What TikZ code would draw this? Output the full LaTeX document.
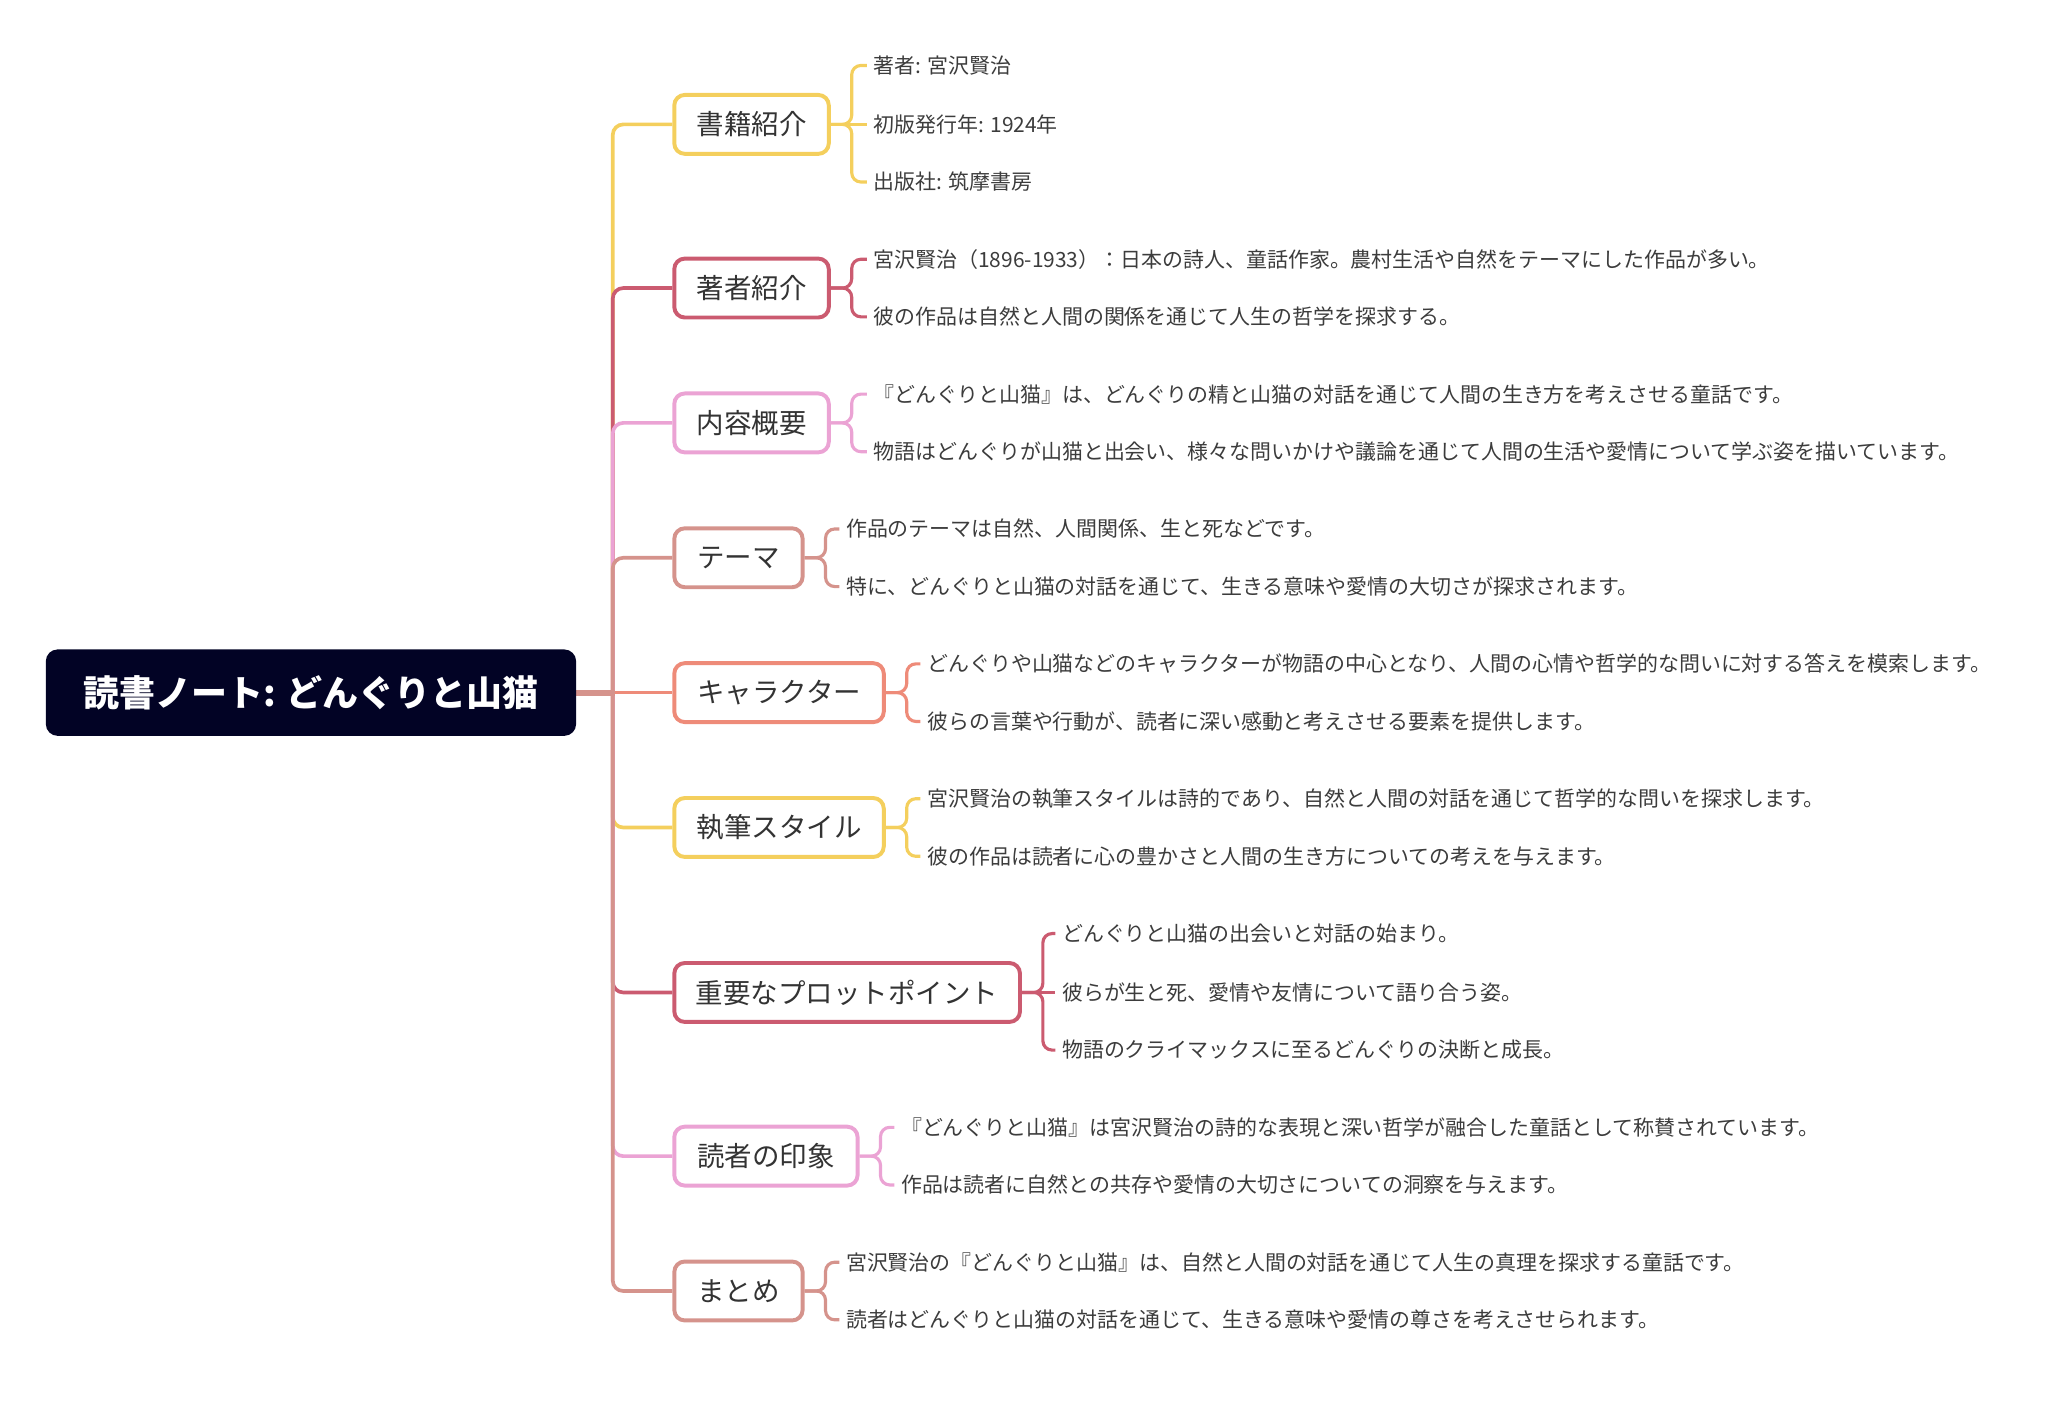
\documentclass[tikz,border=0pt]{standalone}
\usepackage{fontspec}
\setmainfont{Noto Sans CJK JP}
\usetikzlibrary{calc}
\pgfdeclarelayer{links}
\pgfsetlayers{links,main}
\definecolor{cyel}{HTML}{F4CF5D}
\definecolor{ccrim}{HTML}{CB5B70}
\definecolor{cpink}{HTML}{EBA3D4}
\definecolor{crose}{HTML}{D5938C}
\definecolor{csalm}{HTML}{EE8B79}
\definecolor{cnavy}{HTML}{020325}
\definecolor{txtdark}{HTML}{333333}
\definecolor{txtgray}{HTML}{3C3C3C}
\begin{document}
\begin{tikzpicture}[x=1pt,y=-1pt,
  rootbox/.style={fill=cnavy, rounded corners=9pt, text=white,
    font=\bfseries\fontsize{27.5}{30}\selectfont,
    minimum width=405pt, minimum height=66pt, inner sep=0pt},
  branchbox/.style={draw=#1, fill=white, line width=3pt, rounded corners=8pt,
    minimum height=45pt, inner sep=0pt, anchor=west, text=txtdark,
    font=\fontsize{21}{24}\selectfont},
  leaf/.style={anchor=west, inner xsep=5pt, inner ysep=0pt, text=txtgray,
    font=\fontsize{16}{19}\selectfont},
  trunk/.style={draw=#1, line width=2.8pt, rounded corners=8pt},
  twig/.style={draw=#1, line width=2.4pt, rounded corners=7pt},
  rootlink/.style={draw=crose, line width=4.5pt},
]
\useasboundingbox (0,0) rectangle (1568,1070);

% root
\node[rootbox] (root) at (237.5,529) {読書ノート: どんぐりと山猫};
\coordinate (hub) at (468,529);

% branches
\node[branchbox=cyel,  minimum width=118pt] (b1) at (513.5,95)  {書籍紹介};
\node[branchbox=ccrim, minimum width=118pt] (b2) at (513.5,220) {著者紹介};
\node[branchbox=cpink, minimum width=118pt] (b3) at (513.5,323) {内容概要};
\node[branchbox=crose, minimum width=98pt]  (b4) at (513.5,426) {テーマ};
\node[branchbox=csalm, minimum width=160pt] (b5) at (513.5,529) {キャラクター};
\node[branchbox=cyel,  minimum width=160pt] (b6) at (513.5,632) {執筆スタイル};
\node[branchbox=ccrim, minimum width=264pt] (b7) at (513.5,758) {重要なプロットポイント};
\node[branchbox=cpink, minimum width=140pt] (b8) at (513.5,883) {読者の印象};
\node[branchbox=crose, minimum width=98pt]  (b9) at (513.5,986) {まとめ};

% leaves
\node[leaf] (l11) at (662,50)  {著者: 宮沢賢治};
\node[leaf] (l12) at (662,95)  {初版発行年: 1924年};
\node[leaf] (l13) at (662,139) {出版社: 筑摩書房};

\node[leaf] (l21) at (662,198) {宮沢賢治（1896-1933）：日本の詩人、童話作家。農村生活や自然をテーマにした作品が多い。};
\node[leaf] (l22) at (662,242) {彼の作品は自然と人間の関係を通じて人生の哲学を探求する。};

\node[leaf] (l31) at (662,301) {『どんぐりと山猫』は、どんぐりの精と山猫の対話を通じて人間の生き方を考えさせる童話です。};
\node[leaf] (l32) at (662,345) {物語はどんぐりが山猫と出会い、様々な問いかけや議論を通じて人間の生活や愛情について学ぶ姿を描いています。};

\node[leaf] (l41) at (641,404) {作品のテーマは自然、人間関係、生と死などです。};
\node[leaf] (l42) at (641,448) {特に、どんぐりと山猫の対話を通じて、生きる意味や愛情の大切さが探求されます。};

\node[leaf] (l51) at (703,507) {どんぐりや山猫などのキャラクターが物語の中心となり、人間の心情や哲学的な問いに対する答えを模索します。};
\node[leaf] (l52) at (703,551) {彼らの言葉や行動が、読者に深い感動と考えさせる要素を提供します。};

\node[leaf] (l61) at (703,610) {宮沢賢治の執筆スタイルは詩的であり、自然と人間の対話を通じて哲学的な問いを探求します。};
\node[leaf] (l62) at (703,654) {彼の作品は読者に心の豊かさと人間の生き方についての考えを与えます。};

\node[leaf] (l71) at (806,713) {どんぐりと山猫の出会いと対話の始まり。};
\node[leaf] (l72) at (806,758) {彼らが生と死、愛情や友情について語り合う姿。};
\node[leaf] (l73) at (806,802) {物語のクライマックスに至るどんぐりの決断と成長。};

\node[leaf] (l81) at (683,861) {『どんぐりと山猫』は宮沢賢治の詩的な表現と深い哲学が融合した童話として称賛されています。};
\node[leaf] (l82) at (683,905) {作品は読者に自然との共存や愛情の大切さについての洞察を与えます。};

\node[leaf] (l91) at (641,964)  {宮沢賢治の『どんぐりと山猫』は、自然と人間の対話を通じて人生の真理を探求する童話です。};
\node[leaf] (l92) at (641,1008) {読者はどんぐりと山猫の対話を通じて、生きる意味や愛情の尊さを考えさせられます。};

\begin{pgfonlayer}{links}
% trunk connectors (drawn in order, later ones on top)
\draw[trunk=cyel]  (hub) |- (b1.west);
\draw[trunk=ccrim] (hub) |- (b2.west);
\draw[trunk=cpink] (hub) |- (b3.west);
\draw[trunk=crose] (hub) |- (b4.west);
\draw[trunk=csalm] (hub) -- (b5.west);
\draw[trunk=cyel]  (hub) |- (b6.west);
\draw[trunk=ccrim] (hub) |- (b7.west);
\draw[trunk=cpink] (hub) |- (b8.west);
\draw[trunk=crose] (hub) |- (b9.west);
\draw[rootlink] (root.east) -- ($(hub)+(1.4,0)$);

% twigs
\draw[twig=cyel] (b1.east) -- ++(16,0) |- (l11.west);
\draw[twig=cyel] (b1.east) -- (l12.west);
\draw[twig=cyel] (b1.east) -- ++(16,0) |- (l13.west);

\draw[twig=ccrim] (b2.east) -- ++(16,0) |- (l21.west);
\draw[twig=ccrim] (b2.east) -- ++(16,0) |- (l22.west);

\draw[twig=cpink] (b3.east) -- ++(16,0) |- (l31.west);
\draw[twig=cpink] (b3.east) -- ++(16,0) |- (l32.west);

\draw[twig=crose] (b4.east) -- ++(16,0) |- (l41.west);
\draw[twig=crose] (b4.east) -- ++(16,0) |- (l42.west);

\draw[twig=csalm] (b5.east) -- ++(16,0) |- (l51.west);
\draw[twig=csalm] (b5.east) -- ++(16,0) |- (l52.west);

\draw[twig=cyel] (b6.east) -- ++(16,0) |- (l61.west);
\draw[twig=cyel] (b6.east) -- ++(16,0) |- (l62.west);

\draw[twig=ccrim] (b7.east) -- ++(16,0) |- (l71.west);
\draw[twig=ccrim] (b7.east) -- (l72.west);
\draw[twig=ccrim] (b7.east) -- ++(16,0) |- (l73.west);

\draw[twig=cpink] (b8.east) -- ++(16,0) |- (l81.west);
\draw[twig=cpink] (b8.east) -- ++(16,0) |- (l82.west);

\draw[twig=crose] (b9.east) -- ++(16,0) |- (l91.west);
\draw[twig=crose] (b9.east) -- ++(16,0) |- (l92.west);
\end{pgfonlayer}
\end{tikzpicture}
\end{document}
